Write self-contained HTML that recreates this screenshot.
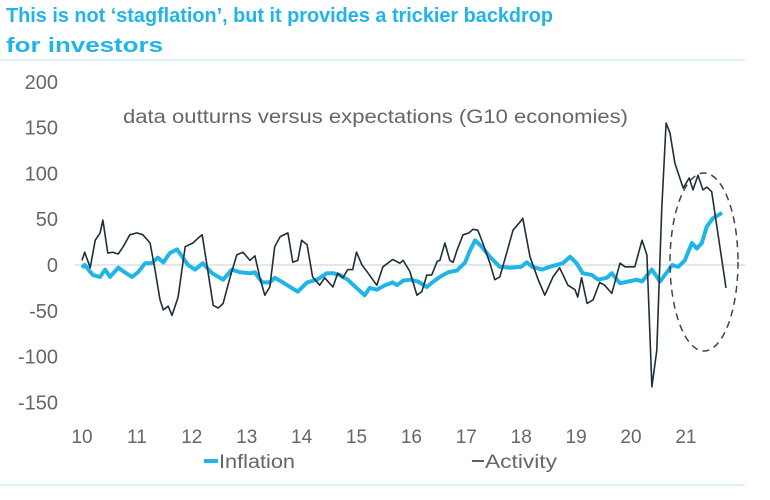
<!DOCTYPE html>
<html><head><meta charset="utf-8"><style>
body{margin:0;background:#fff;}
svg text{font-family:"Liberation Sans",Arial,sans-serif;}
</style></head><body>
<svg width="770" height="495" viewBox="0 0 770 495">
<text x="6" y="22" font-size="20" font-weight="bold" fill="#1fb5e8" textLength="547" lengthAdjust="spacingAndGlyphs">This is not ‘stagflation’, but it provides a trickier backdrop</text>
<text x="6" y="52" font-size="20" font-weight="bold" fill="#1fb5e8" textLength="157" lengthAdjust="spacingAndGlyphs">for investors</text>
<line x1="0" y1="60" x2="745" y2="60" stroke="#bfe6f5" stroke-width="1"/>
<line x1="0" y1="485" x2="745" y2="485" stroke="#bfe6f5" stroke-width="1"/>
<text x="123" y="123" font-size="19" fill="#666" textLength="505" lengthAdjust="spacingAndGlyphs">data outturns versus expectations (G10 economies)</text>
<g id="yaxis"></g>
<g id="xaxis"></g>
<g id="plot"></g>
<ellipse cx="704" cy="262" rx="34" ry="89" fill="none" stroke="#444" stroke-width="1.5" stroke-dasharray="7,5"/>
<line x1="204" y1="461" x2="218" y2="461" stroke="#1fb5e8" stroke-width="4"/>
<text x="219" y="468" font-size="19" fill="#666" textLength="76" lengthAdjust="spacingAndGlyphs">Inflation</text>
<line x1="472" y1="461" x2="484" y2="461" stroke="#1e2f3a" stroke-width="1.5"/>
<text x="485" y="468" font-size="19" fill="#666" textLength="72" lengthAdjust="spacingAndGlyphs">Activity</text>
</svg>
<script>
const yTicks=[200,150,100,50,0,-50,-100,-150];
const xTicks=[10,11,12,13,14,15,16,17,18,19,20,21];
const actT=[2010.0,2010.05,2010.15,2010.24,2010.33,2010.38,2010.47,2010.56,2010.66,2010.75,2010.87,2011.0,2011.11,2011.24,2011.33,2011.42,2011.48,2011.57,2011.64,2011.75,2011.88,2012.02,2012.11,2012.19,2012.39,2012.48,2012.57,2012.70,2012.82,2012.93,2013.06,2013.15,2013.24,2013.33,2013.42,2013.51,2013.61,2013.75,2013.84,2013.93,2014.0,2014.1,2014.2,2014.33,2014.42,2014.57,2014.66,2014.75,2014.84,2014.93,2015.0,2015.1,2015.2,2015.37,2015.48,2015.66,2015.79,2015.85,2015.97,2016.1,2016.19,2016.28,2016.37,2016.47,2016.52,2016.61,2016.7,2016.76,2016.83,2016.94,2017.05,2017.12,2017.21,2017.3,2017.43,2017.52,2017.61,2017.74,2017.85,2017.98,2018.03,2018.16,2018.31,2018.43,2018.58,2018.7,2018.85,2018.98,2019.03,2019.1,2019.2,2019.31,2019.43,2019.52,2019.65,2019.8,2019.89,2020.07,2020.2,2020.29,2020.38,2020.47,2020.56,2020.64,2020.71,2020.8,2020.95,2021.06,2021.13,2021.22,2021.31,2021.38,2021.47,2021.73];
const actV=[5,14,-3,27,35,49,13,14,12,20,33,35,33,24,-5,-38,-49,-45,-55,-35,20,24,29,33,-44,-47,-42,-13,11,14,5,10,-14,-33,-24,20,31,35,3,5,27,22,-13,-22,-14,-24,-9,-14,-5,-5,14,0,-8,-22,-2,6,2,5,-7,-33,-29,-11,-11,4,5,24,5,3,16,33,35,39,38,24,2,-16,-13,14,38,47,51,9,-16,-33,-13,-3,-22,-27,-35,-14,-42,-38,-19,-22,-31,2,-2,-2,27,11,-133,-93,60,155,144,111,84,95,82,98,82,85,80,-25];
const infT=[2010.0,2010.05,2010.2,2010.33,2010.42,2010.51,2010.66,2010.78,2010.91,2011.02,2011.15,2011.27,2011.38,2011.48,2011.6,2011.73,2011.84,2011.93,2012.06,2012.2,2012.37,2012.57,2012.73,2012.88,2013.06,2013.15,2013.28,2013.42,2013.51,2013.66,2013.79,2013.93,2014.1,2014.28,2014.46,2014.57,2014.7,2014.84,2015.0,2015.15,2015.24,2015.37,2015.52,2015.66,2015.74,2015.85,2015.97,2016.12,2016.28,2016.4,2016.52,2016.67,2016.83,2016.98,2017.07,2017.16,2017.28,2017.43,2017.61,2017.8,2018.0,2018.1,2018.2,2018.38,2018.52,2018.76,2018.89,2019.01,2019.12,2019.29,2019.4,2019.56,2019.65,2019.8,2019.95,2020.11,2020.2,2020.38,2020.53,2020.75,2020.86,2020.98,2021.11,2021.2,2021.29,2021.38,2021.49,2021.66];
const infV=[-3,0,-11,-13,-5,-13,-3,-8,-13,-8,2,2,8,3,13,17,8,0,-5,2,-9,-16,-5,-8,-9,-8,-19,-19,-14,-19,-24,-29,-19,-16,-9,-9,-11,-16,-25,-33,-25,-27,-22,-19,-22,-17,-16,-18,-24,-18,-13,-8,-6,3,16,27,20,9,-2,-3,-2,3,-2,-5,-2,2,9,2,-9,-11,-16,-14,-9,-20,-18,-16,-18,-5,-18,0,-2,5,24,18,24,42,51,57];
const NS='http://www.w3.org/2000/svg';
const xS=t=>82+(t-2010)*54.9;
const yS=v=>265-v*0.916;
const ya=document.getElementById('yaxis'),xa=document.getElementById('xaxis'),pl=document.getElementById('plot');
yTicks.forEach(v=>{const t=document.createElementNS(NS,'text');


t.setAttribute('x',58);t.setAttribute('y',yS(v)+7);t.setAttribute('text-anchor','end');t.setAttribute('font-size','20');t.setAttribute('fill','#666');t.textContent=v;ya.appendChild(t);});
xTicks.forEach(v=>{const t=document.createElementNS(NS,'text');


t.setAttribute('x',xS(2000+v));t.setAttribute('y',443);t.setAttribute('text-anchor','middle');t.setAttribute('font-size','19');t.setAttribute('fill','#666');t.textContent=v;xa.appendChild(t);});
const z=document.createElementNS(NS,'line');


z.setAttribute('x1',75);z.setAttribute('x2',745);z.setAttribute('y1',yS(0));z.setAttribute('y2',yS(0));z.setAttribute('stroke','#ccc');z.setAttribute('stroke-width','1');pl.appendChild(z);
function line(T,V,col,w,name){const p=document.createElementNS(NS,'polyline');


p.setAttribute('points',T.map((t,i)=>xS(t).toFixed(1)+','+yS(V[i]).toFixed(1)).join(' '));p.setAttribute('fill','none');p.setAttribute('stroke',col);p.setAttribute('stroke-width',w);p.setAttribute('stroke-linejoin','round');pl.appendChild(p);}
line(infT,infV,'#1fb5e8',4,'inflation-line');
line(actT,actV,'#1e2f3a',1.6,'activity-line');
</script>
</body></html>
